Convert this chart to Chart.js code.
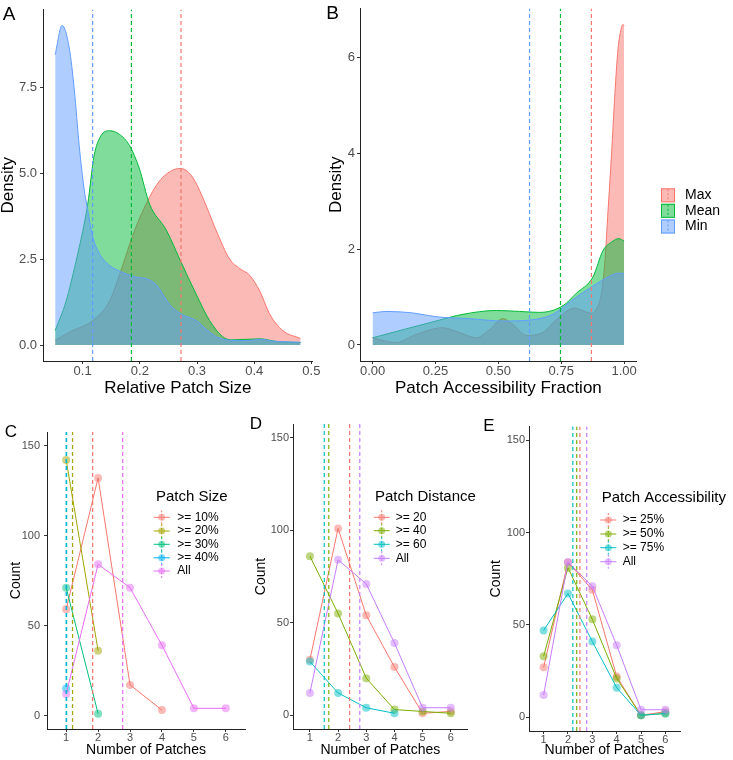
<!DOCTYPE html>
<html><head><meta charset="utf-8">
<script src="https://cdn.jsdelivr.net/npm/chart.js@4.4.1/dist/chart.umd.min.js"></script>
<style>
html,body{margin:0;padding:0;background:#fff;}
#wrap{position:relative;width:733px;height:760px;overflow:hidden;background:#fff;}
canvas{position:absolute;}
</style></head><body><div id="wrap">
<canvas id="cA"></canvas><canvas id="cB"></canvas><canvas id="cC"></canvas><canvas id="cD"></canvas><canvas id="cE"></canvas>
</div>
<script>
// ---------- DATA ----------
// Panel A: density of relative patch size (Max / Mean / Min)
const sizeMaxX  = [0.052,0.08,0.1175,0.1468,0.17,0.187,0.211,0.234,0.258,0.2724,0.293,0.31,0.333,0.357,0.375,0.392,0.41,0.427,0.45,0.481];
const sizeMaxY  = [0.14,0.4,0.71,1.27,2.31,3.16,4.1,4.76,5.09,5.13,4.86,4.29,3.35,2.5,2.22,2.03,1.56,0.9,0.42,0.19];
const sizeMeanX = [0.052,0.071,0.088,0.1,0.109,0.12,0.132,0.147,0.164,0.182,0.199,0.217,0.246,0.2724,0.299,0.322,0.345,0.36,0.41,0.44,0.481];
const sizeMeanY = [0.42,1.27,2.4,3.3,4.1,5.5,6.08,6.23,6.13,5.8,5.14,4.1,3.35,2.4,1.46,0.71,0.24,0.15,0.18,0.1,0.07];
const sizeMinX  = [0.052,0.064,0.0767,0.0855,0.094,0.103,0.107,0.1175,0.128,0.141,0.158,0.176,0.195,0.211,0.229,0.252,0.272,0.299,0.317,0.334,0.358,0.39,0.412,0.43,0.481];
const sizeMinY  = [8.44,9.29,8.63,7.41,5.8,4.48,4.1,3.16,2.7,2.4,2.2,2.07,1.97,1.93,1.75,1.18,0.9,0.71,0.45,0.24,0.14,0.13,0.17,0.12,0.08];
const sizeMeanLines = [0.272, 0.1853, 0.1175];          // Max, Mean, Min
const sizeXTicks = [0.1, 0.2, 0.3, 0.4, 0.5];
const sizeYTicks = [0, 2.5, 5, 7.5];

// Panel B: density of patch accessibility fraction
const accMaxX  = [0,0.093,0.173,0.279,0.345,0.412,0.465,0.518,0.558,0.611,0.677,0.731,0.803,0.87,0.89,0.91,0.923,0.936,0.95,0.963,0.976,0.99,0.996,1.0];
const accMaxY  = [0.15,0.05,0.22,0.36,0.26,0.15,0.32,0.55,0.43,0.2,0.26,0.53,0.77,0.66,0.75,1.08,1.7,2.8,3.98,5.22,6.19,6.64,6.69,6.66];
const accMeanX = [0,0.252,0.359,0.492,0.584,0.664,0.757,0.81,0.876,0.916,0.95,0.98,1.0];
const accMeanY = [0.15,0.5,0.64,0.72,0.70,0.68,0.82,1.08,1.42,1.97,2.15,2.22,2.17];
const accMinX  = [0,0.053,0.159,0.252,0.385,0.518,0.624,0.717,0.797,0.876,0.956,0.98,1.0];
const accMinY  = [0.67,0.7,0.67,0.59,0.55,0.5,0.52,0.64,0.95,1.23,1.47,1.5,1.49];
const accMeanLines = [0.87, 0.747, 0.624];           // Max, Mean, Min
const accXTicks = [0, 0.25, 0.5, 0.75, 1];
const accYTicks = [0, 2, 4, 6];
const densLabels = ['Max', 'Mean', 'Min'];

// Panels C-E: counts by number of patches
const patchCounts = [1, 2, 3, 4, 5, 6];
const countTicks = [0, 50, 100, 150];
const sizeLabels = ['>= 10%', '>= 20%', '>= 30%', '>= 40%', 'All'];
const size10 = [59, 132, 17, 3];
const size20 = [142, 36];
const size30 = [71, 1];
const size40 = [15];
const allPatches = [12, 84, 71, 39, 4, 4];
const sizeCountMeans = [1.83, 1.2, 1.014, 1.0, 2.77];
const distLabels = ['>= 20', '>= 40', '>= 60', 'All'];
const dist20 = [30, 101, 54, 26, 1, 2];
const dist40 = [86, 55, 20, 3, 2, 1];
const dist60 = [29, 12, 4, 1];
const distCountMeans = [2.41, 1.67, 1.51, 2.77];
const accLabels = ['>= 25%', '>= 50%', '>= 75%', 'All'];
const acc25 = [27, 84, 69, 22, 1, 3];
const acc50 = [33, 81, 53, 21, 1, 2];
const acc75 = [47, 67, 41, 16, 1, 2];
const accCountMeans = [2.49, 2.36, 2.2, 2.77];

// ---------- STYLE ----------
const FONT = '"Liberation Sans", Arial, Helvetica, sans-serif';
const COL3 = ['#F8766D', '#00BA38', '#619CFF'];
const COL5 = ['#F8766D', '#A3A500', '#00BF7D', '#00B0F6', '#E76BF3'];
const COL4 = ['#F8766D', '#7CAE00', '#00BFC4', '#C77CFF'];

function rgba(hex, a){ const n = parseInt(hex.slice(1), 16); return 'rgba(' + (n>>16&255) + ',' + (n>>8&255) + ',' + (n&255) + ',' + a + ')'; }
function pts(xs, ys){ return xs.map((x, i) => ({x: x, y: ys[i]})); }

function axis(o){
  return {
    type: 'linear', min: o.min, max: o.max,
    afterBuildTicks(s){ s.ticks = o.ticks.map(v => ({value: v})); },
    afterFit(s){ if (o.w != null) s.width = o.w; if (o.h != null) s.height = o.h; },
    ticks: { callback: (v) => o.fmt(v), font: {family: FONT, size: o.ts, lineHeight: 1}, color: '#4D4D4D', padding: o.tp, autoSkip: false, maxRotation: 0, minRotation: 0 },
    grid: { display: true, drawOnChartArea: false, drawTicks: true, tickLength: 3, color: '#333', lineWidth: 1 },
    border: { display: true, color: '#222', width: 1 },
    title: { display: true, text: o.title, color: '#000', font: {family: FONT, size: o.fs, lineHeight: 1}, padding: o.pad }
  };
}

function dens(xs, ys, col, order){
  return { data: pts(xs, ys), borderColor: col, borderWidth: 1, backgroundColor: rgba(col, 0.5), fill: 'origin', pointRadius: 0, cubicInterpolationMode: 'monotone', order: order };
}
function vline(x, y0, y1, col, w, dash, order){
  return { data: [{x: x, y: y0}, {x: x, y: y1}], borderColor: col, borderWidth: w, borderDash: dash, pointRadius: 0, fill: false, order: order };
}
function series(ys, col, order){
  return { data: ys.map((y, i) => ({x: patchCounts[i], y: y})), borderColor: col, borderWidth: 1, backgroundColor: rgba(col, 0.5),
    pointRadius: 4, pointBackgroundColor: rgba(col, 0.5), pointBorderWidth: 0, pointBorderColor: 'rgba(0,0,0,0)', fill: false, tension: 0, order: order };
}

function build(id, box, area, opt){
  const cv = document.getElementById(id);
  cv.width = box.w; cv.height = box.h;
  cv.style.left = box.x + 'px'; cv.style.top = box.y + 'px';
  cv.style.width = box.w + 'px'; cv.style.height = box.h + 'px';
  const yW = area.l - box.x, xH = box.y + box.h - area.b;
  return new Chart(cv.getContext('2d'), {
    type: 'line',
    data: { datasets: opt.datasets },
    options: {
      responsive: false, animation: false, devicePixelRatio: 1,
      layout: { padding: { left: 0, top: area.t - box.y, right: box.x + box.w - area.r, bottom: 0 } },
      plugins: { legend: { display: false }, tooltip: { enabled: false } },
      scales: { x: axis(Object.assign({}, opt.x, {h: xH})), y: axis(Object.assign({}, opt.y, {w: yW})) }
    },
    plugins: [{ id: 'deco' + id, afterDraw(chart){ opt.deco(chart.ctx, box.x, box.y); } }]
  });
}

function letter(ctx, ch, x, y, size, ox, oy){
  ctx.save(); ctx.font = size + 'px ' + FONT; ctx.fillStyle = '#000'; ctx.textAlign = 'center'; ctx.textBaseline = 'middle';
  ctx.fillText(ch, x - ox, y - oy); ctx.restore();
}
function pointLegend(ctx, ox, oy, title, tx, ty, keyX, textX, rows, labels, cols){
  ctx.save();
  ctx.font = '15px ' + FONT; ctx.fillStyle = '#000'; ctx.textAlign = 'left'; ctx.textBaseline = 'middle';
  ctx.fillText(title, tx - ox, ty - oy);
  labels.forEach((lab, i) => {
    const cy = rows[i] - oy, kx = keyX - ox, c = cols[i];
    ctx.strokeStyle = c; ctx.lineWidth = 1;
    ctx.setLineDash([2, 2]); ctx.beginPath(); ctx.moveTo(kx, cy - 7); ctx.lineTo(kx, cy + 7); ctx.stroke();
    ctx.setLineDash([]); ctx.beginPath(); ctx.moveTo(kx - 8, cy); ctx.lineTo(kx + 8, cy); ctx.stroke();
    ctx.fillStyle = rgba(c, 0.5); ctx.beginPath(); ctx.arc(kx, cy, 3.5, 0, Math.PI * 2); ctx.fill();
    ctx.fillStyle = '#000'; ctx.font = '12px ' + FONT; ctx.fillText(lab, textX - ox, cy);
  });
  ctx.restore();
}

// ---------- PANEL A ----------
const yA = [-0.4645, 9.755];
build('cA', {x: 0, y: 0, w: 326, h: 400}, {l: 43, t: 0, r: 312.7, b: 361}, {
  datasets: [
    dens(sizeMaxX, sizeMaxY, COL3[0], 3),
    dens(sizeMeanX, sizeMeanY, COL3[1], 2),
    dens(sizeMinX, sizeMinY, COL3[2], 1),
    vline(sizeMeanLines[0], yA[0], yA[1], COL3[0], 1.2, [4, 3], 0),
    vline(sizeMeanLines[1], yA[0], yA[1], COL3[1], 1.2, [4, 3], 0),
    vline(sizeMeanLines[2], yA[0], yA[1], COL3[2], 1.2, [4, 3], 0)
  ],
  x: { min: 0.0307, max: 0.5023, ticks: sizeXTicks, fmt: v => v.toFixed(1), ts: 13, tp: 1, title: 'Relative Patch Size', fs: 17, pad: {top: 0, bottom: 3} },
  y: { min: yA[0], max: yA[1], ticks: sizeYTicks, fmt: v => v.toFixed(1), ts: 13, tp: 3, title: 'Density', fs: 17, pad: {top: 0, bottom: 0} },
  deco: (ctx, ox, oy) => { letter(ctx, 'A', 9, 14.5, 19, ox, oy); }
});

// ---------- PANEL B ----------
const yB = [-0.3345, 7.0245];
build('cB', {x: 326, y: 0, w: 407, h: 400}, {l: 360, t: 6, r: 636.7, b: 361}, {
  datasets: [
    dens(accMaxX, accMaxY, COL3[0], 3),
    dens(accMeanX, accMeanY, COL3[1], 2),
    dens(accMinX, accMinY, COL3[2], 1),
    vline(accMeanLines[0], yB[0], yB[1], COL3[0], 1.2, [4, 3], 0),
    vline(accMeanLines[1], yB[0], yB[1], COL3[1], 1.2, [4, 3], 0),
    vline(accMeanLines[2], yB[0], yB[1], COL3[2], 1.2, [4, 3], 0)
  ],
  x: { min: -0.05, max: 1.05, ticks: accXTicks, fmt: v => v.toFixed(2), ts: 13, tp: 1, title: 'Patch Accessibility Fraction', fs: 17, pad: {top: 0, bottom: 3} },
  y: { min: yB[0], max: yB[1], ticks: accYTicks, fmt: v => String(v), ts: 13, tp: 2, title: 'Density', fs: 17, pad: {top: 2, bottom: 0} },
  deco: (ctx, ox, oy) => {
    letter(ctx, 'B', 332.5, 13.5, 19, ox, oy);
    ctx.save();
    const rows = [195.3, 210.8, 226.5];
    densLabels.forEach((lab, i) => {
      const c = COL3[i], cy = rows[i] - oy, bx = 661 - ox;
      ctx.fillStyle = rgba(c, 0.5); ctx.fillRect(bx, cy - 7, 14, 14);
      ctx.strokeStyle = c; ctx.lineWidth = 1; ctx.setLineDash([]); ctx.strokeRect(bx + 0.5, cy - 6.5, 13, 13);
      ctx.setLineDash([2, 2]); ctx.beginPath(); ctx.moveTo(bx + 7, cy - 6); ctx.lineTo(bx + 7, cy + 6); ctx.stroke();
      ctx.setLineDash([]);
      ctx.fillStyle = '#000'; ctx.font = '14px ' + FONT; ctx.textAlign = 'left'; ctx.textBaseline = 'middle';
      ctx.fillText(lab, 685 - ox, cy);
    });
    ctx.restore();
  }
});

// ---------- PANELS C, D, E ----------
const yC = [-7.5, 157.5];
const countAxis = (tp, pt) => ({ min: yC[0], max: yC[1], ticks: countTicks, fmt: v => String(v), ts: 11, tp: tp, title: 'Count', fs: 14, pad: {top: pt, bottom: 0} });
const patchAxis = (pb) => ({ min: 0.4, max: 6.6, ticks: patchCounts, fmt: v => String(v), ts: 11, tp: 0, title: 'Number of Patches', fs: 14, pad: {top: 0, bottom: pb} });

build('cC', {x: 0, y: 400, w: 250, h: 360}, {l: 47, t: 432, r: 245, b: 729}, {
  datasets: [
    series(size10, COL5[0], 6), series(size20, COL5[1], 5), series(size30, COL5[2], 4), series(size40, COL5[3], 3), series(allPatches, COL5[4], 2),
    vline(sizeCountMeans[0], yC[0], yC[1], COL5[0], 1.2, [4, 3], 1),
    vline(sizeCountMeans[1], yC[0], yC[1], COL5[1], 1.2, [4, 3], 1),
    vline(sizeCountMeans[2], yC[0], yC[1], COL5[2], 1.2, [4, 3], 1),
    vline(sizeCountMeans[4], yC[0], yC[1], COL5[4], 1.2, [4, 3], 1),
    vline(sizeCountMeans[3], yC[0], yC[1], COL5[3], 1.2, [4, 3], 0)
  ],
  x: patchAxis(3), y: countAxis(4, 9),
  deco: (ctx, ox, oy) => {
    letter(ctx, 'C', 10.8, 432.5, 17, ox, oy);
    pointLegend(ctx, ox, oy, 'Patch Size', 156, 496.7, 161.7, 177.3, [517.3, 531, 544.3, 557.8, 571], sizeLabels, COL5);
  }
});

build('cD', {x: 250, y: 400, w: 230, h: 360}, {l: 293, t: 424, r: 467.7, b: 729}, {
  datasets: [
    series(dist20, COL4[0], 5), series(dist40, COL4[1], 4), series(dist60, COL4[2], 3), series(allPatches, COL4[3], 2),
    vline(distCountMeans[0], yC[0], yC[1], COL4[0], 1.2, [4, 3], 1),
    vline(distCountMeans[1], yC[0], yC[1], COL4[1], 1.2, [4, 3], 1),
    vline(distCountMeans[2], yC[0], yC[1], COL4[2], 1.2, [4, 3], 1),
    vline(distCountMeans[3], yC[0], yC[1], COL4[3], 1.2, [4, 3], 1)
  ],
  x: patchAxis(3), y: countAxis(1, 4),
  deco: (ctx, ox, oy) => {
    letter(ctx, 'D', 255.8, 424, 17, ox, oy);
    pointLegend(ctx, ox, oy, 'Patch Distance', 375, 496.7, 381.7, 395.7, [517.3, 530.7, 544.3, 558.3], distLabels, COL4);
  }
});

build('cE', {x: 480, y: 400, w: 253, h: 360}, {l: 529, t: 426.5, r: 680, b: 731}, {
  datasets: [
    series(acc25, COL4[0], 5), series(acc50, COL4[1], 4), series(acc75, COL4[2], 3), series(allPatches, COL4[3], 2),
    vline(accCountMeans[0], yC[0], yC[1], COL4[0], 1.2, [4, 3], 1),
    vline(accCountMeans[1], yC[0], yC[1], COL4[1], 1.2, [4, 3], 1),
    vline(accCountMeans[2], yC[0], yC[1], COL4[2], 1.2, [4, 3], 1),
    vline(accCountMeans[3], yC[0], yC[1], COL4[3], 1.2, [4, 3], 1)
  ],
  x: patchAxis(2.5), y: countAxis(1, 9),
  deco: (ctx, ox, oy) => {
    letter(ctx, 'E', 489, 426.5, 17, ox, oy);
    pointLegend(ctx, ox, oy, 'Patch Accessibility', 601.7, 498.3, 608.3, 622.7, [520, 534, 547.7, 561.7], accLabels, COL4);
  }
});
</script>
</body></html>
